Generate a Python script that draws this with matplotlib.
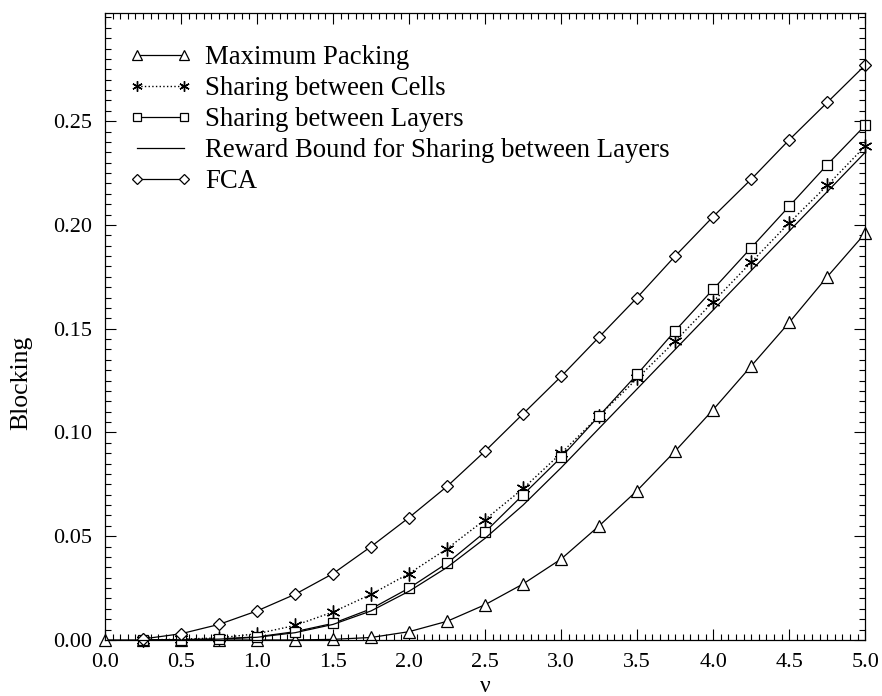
import matplotlib
matplotlib.use("Agg")
import matplotlib.pyplot as plt
from matplotlib.ticker import MultipleLocator, FixedLocator, FormatStrFormatter

plt.rcParams['font.family'] = ['Liberation Serif', 'DejaVu Serif']

# offered load (nu)
nu_mp = [0.0, 0.25, 0.5, 0.75, 1.0, 1.25, 1.5, 1.75, 2.0, 2.25, 2.5, 2.75,
         3.0, 3.25, 3.5, 3.75, 4.0, 4.25, 4.5, 4.75, 5.0]
nu = [0.25, 0.5, 0.75, 1.0, 1.25, 1.5, 1.75, 2.0, 2.25, 2.5, 2.75,
      3.0, 3.25, 3.5, 3.75, 4.0, 4.25, 4.5, 4.75, 5.0]

max_packing = [0.0, 0.0, 0.0, 0.0, 0.0, 0.0, 0.0003, 0.0012, 0.004, 0.009,
               0.017, 0.027, 0.039, 0.055, 0.072, 0.091, 0.111, 0.132,
               0.153, 0.175, 0.196]
sharing_cells = [0.0, 0.0004, 0.001, 0.003, 0.007, 0.0135, 0.022, 0.032,
                 0.044, 0.058, 0.073, 0.090, 0.108, 0.126, 0.144, 0.163,
                 0.182, 0.201, 0.219, 0.238]
sharing_layers = [0.0, 0.0002, 0.0005, 0.0015, 0.004, 0.008, 0.015, 0.025,
                  0.037, 0.052, 0.070, 0.088, 0.108, 0.128, 0.149, 0.169,
                  0.189, 0.209, 0.229, 0.248]
reward_bound = [0.0, 0.0001, 0.0004, 0.0013, 0.0035, 0.0075, 0.014, 0.0235,
                0.035, 0.049, 0.065, 0.083, 0.102, 0.121, 0.140, 0.159,
                0.178, 0.197, 0.216, 0.235]
fca = [0.0005, 0.003, 0.0075, 0.014, 0.022, 0.032, 0.045, 0.059, 0.074,
       0.091, 0.109, 0.127, 0.146, 0.165, 0.185, 0.204, 0.222, 0.241,
       0.259, 0.277]

x_ticks = [0.0, 0.5, 1.0, 1.5, 2.0, 2.5, 3.0, 3.5, 4.0, 4.5, 5.0]
y_ticks = [0.00, 0.05, 0.10, 0.15, 0.20, 0.25]

fig = plt.figure(figsize=(8.82, 6.96), dpi=100)
ax = fig.add_axes([0.119, 0.0805, 0.862, 0.9005])

common = dict(color='black', lw=0.9, mfc='white', mec='black', mew=0.9,
              clip_on=False)
ax.plot(nu_mp, max_packing, marker='^', ms=9, label='Maximum Packing',
        **common)
ax.plot(nu, sharing_cells, marker=(6, 2, 0), ms=10, ls=':', lw=1.0,
        color='black', mec='black', mew=1.0, clip_on=False,
        label='Sharing between Cells')
ax.plot(nu, sharing_layers, marker='s', ms=7.5, label='Sharing between Layers',
        **common)
ax.plot(nu, reward_bound, color='black', lw=0.9, clip_on=False,
        label='Reward Bound for Sharing between Layers')
ax.plot(nu, fca, marker='D', ms=6.5, label='FCA', **common)

ax.set_xlim(0, 5)
ax.set_ylim(0, 0.302)
ax.xaxis.set_major_locator(FixedLocator(x_ticks))
ax.xaxis.set_minor_locator(MultipleLocator(0.05))
ax.yaxis.set_major_locator(FixedLocator(y_ticks))
ax.yaxis.set_minor_locator(MultipleLocator(0.005))
ax.xaxis.set_major_formatter(FormatStrFormatter('%.1f'))
ax.yaxis.set_major_formatter(FormatStrFormatter('%.2f'))
ax.tick_params(which='both', direction='in', top=True, right=True,
               labelsize=16, width=0.8)
ax.tick_params(which='major', length=8, pad=9.5)
ax.tick_params(which='minor', length=4)
for s in ax.spines.values():
    s.set_linewidth(0.9)

ax.set_xlabel('ν', fontsize=17)
ax.set_ylabel('Blocking', fontsize=18.5)
ax.xaxis.set_label_coords(0.5, -0.057)
ax.yaxis.set_label_coords(-0.096, 0.41)

ax.legend(loc='upper left', bbox_to_anchor=(0.0, 0.987), frameon=False,
          fontsize=19.3, numpoints=2, markerscale=0.75, handlelength=2.35,
          handletextpad=0.5, labelspacing=0.22, borderaxespad=0.5)

fig.savefig('out.png', dpi=100)
